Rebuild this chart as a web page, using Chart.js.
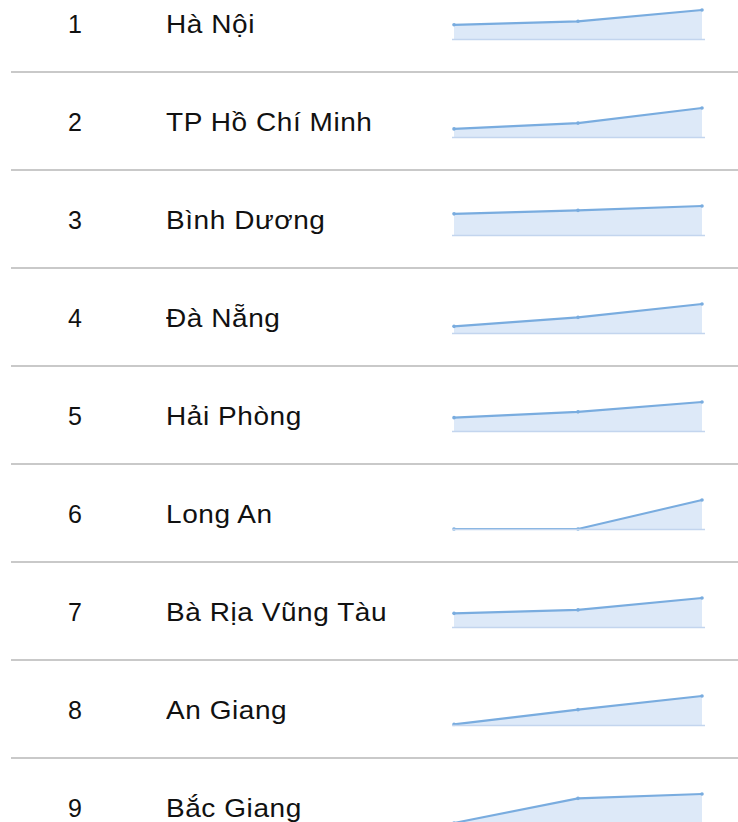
<!DOCTYPE html>
<html lang="vi">
<head>
<meta charset="utf-8">
<script src="https://cdn.jsdelivr.net/npm/chart.js@4"></script>
<style>
  html, body { margin: 0; padding: 0; background: #fff; }
  body { width: 738px; height: 822px; overflow: hidden; position: relative;
         font-family: "Liberation Sans", Arial, sans-serif; color: #111; }
  .row { position: absolute; left: 0; width: 738px; height: 98px; }
  .row .sep { position: absolute; left: 11px; right: 0; bottom: 0; height: 2px;
              background: #c9c9c9; }
  .rank, .name { position: absolute; top: 0; line-height: 98px; font-size: 25px;
                 white-space: nowrap; }
  .rank { left: 68px; }
  .name { left: 166px; letter-spacing: 0.5px; transform: scaleX(1.12); transform-origin: left center; }
  .spark { position: absolute; left: 444px; top: 25px; }
</style>
</head>
<body>
<script>
/* ranking list with a 3-point trend sparkline per province */
const ranks = [1, 2, 3, 4, 5, 6, 7, 8, 9];
const provinces = ["Hà Nội", "TP Hồ Chí Minh", "Bình Dương", "Đà Nẵng", "Hải Phòng",
                   "Long An", "Bà Rịa Vũng Tàu", "An Giang", "Bắc Giang"];
const periods = ["Kỳ 1", "Kỳ 2", "Kỳ 3"];

const period1 = [49, 28, 73, 23, 46, 0, 47, 2, 0];
const period2 = [61, 48, 85, 54, 66, 0, 59, 53, 85];
const period3 = [100, 100, 100, 100, 100, 100, 100, 100, 100];

const LINE = "#79acdf";
const FILL = "#dde9f8";
const BASE = "#c3d5ee";

/* thin baseline under the fill, a little wider than the plot area */
const baseline = {
  id: "baseline",
  afterDatasetsDraw(chart) {
    const { ctx, chartArea, scales } = chart;
    const y = Math.round(scales.y.getPixelForValue(0)) + 0.5;
    ctx.save();
    ctx.strokeStyle = BASE;
    ctx.lineWidth = 1.5;
    ctx.beginPath();
    ctx.moveTo(chartArea.left - 2, y);
    ctx.lineTo(chartArea.right + 3, y);
    ctx.stroke();
    ctx.restore();
  },
};

ranks.forEach((rank, i) => {
  const row = document.createElement("div");
  row.className = "row";
  row.style.top = (-25 + i * 98) + "px";
  row.innerHTML = `<div class="rank">${rank}</div><div class="name">${provinces[i]}</div>
    <canvas class="spark" width="268" height="48"></canvas><div class="sep"></div>`;
  document.body.appendChild(row);

  const values = [period1[i], period2[i], period3[i]];
  new Chart(row.querySelector("canvas"), {
    type: "line",
    data: {
      labels: periods,
      datasets: [{
        data: values,
        borderColor: LINE,
        backgroundColor: FILL,
        borderWidth: 2.2,
        fill: "origin",
        tension: 0,
        pointRadius: 1.8,
        pointBackgroundColor: LINE,
        pointBorderWidth: 0,
        clip: false,
      }],
    },
    options: {
      responsive: false,
      animation: false,
      events: [],
      layout: { padding: { left: 10, right: 10, top: 10, bottom: 9 } },
      plugins: { legend: { display: false }, tooltip: { enabled: false } },
      scales: {
        x: { display: false, offset: false },
        y: { display: false, min: 0, max: Math.max(...values) },
      },
    },
    plugins: [baseline],
  });
});
</script>
</body>
</html>
